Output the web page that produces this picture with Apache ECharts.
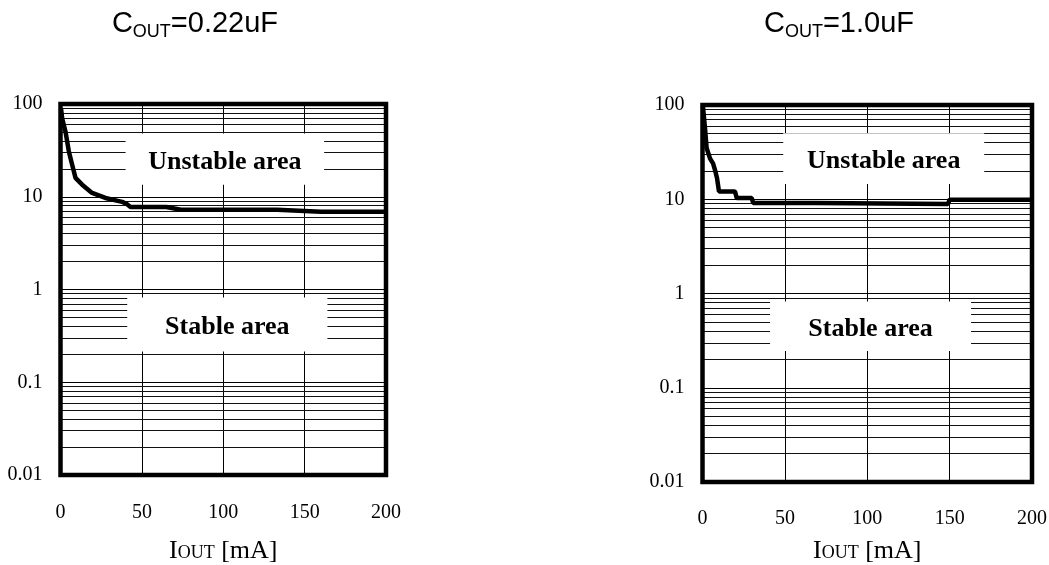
<!DOCTYPE html>
<html><head><meta charset="utf-8">
<script src="https://cdn.jsdelivr.net/npm/echarts@6/dist/echarts.min.js"></script>
<style>html,body{margin:0;padding:0;background:#fff}#c{width:1049px;height:565px}</style>
</head><body><div id="c"></div>
<script>
// ---- data ----
const xTicks = [0, 50, 100, 150, 200];
const yTickLabels = ['0.01', '0.1', '1', '10', '100'];
const minorGridValues = [
  0.02, 0.03, 0.04, 0.05, 0.06, 0.07, 0.08, 0.09,
  0.2, 0.3, 0.4, 0.5, 0.6, 0.7, 0.8, 0.9,
  2, 3, 4, 5, 6, 7, 8, 9,
  20, 30, 40, 50, 60, 70, 80, 90
];
const titleValues = ['0.22uF', '1.0uF'];
const areaNames = ['Unstable area', 'Stable area'];
// C_OUT = 0.22uF : [IOUT mA, ESR ohm]
const curve022 = [
  [0.3, 90], [1.0, 70], [3.1, 50], [5.1, 31], [7.2, 22], [9.2, 16], [13.3, 13.5],
  [19.4, 11], [27.6, 9.7], [37.9, 8.8], [40.5, 8.4], [43, 7.75], [65, 7.75],
  [74, 7.25], [133, 7.25], [160, 6.9], [200, 6.9]
];
// C_OUT = 1.0uF
const curve10 = [
  [0.2, 100], [0.5, 96], [1.5, 57], [2.5, 35], [4.6, 27], [6.4, 24], [7.6, 20.4],
  [8.8, 16.8], [10, 12.1], [19.7, 12.1], [20.8, 10.3], [29.9, 10.3], [30.8, 9.1],
  [69.3, 9.1], [70, 8.9], [149, 8.9], [150, 9.9], [200, 9.9]
];

// ---- styles / layout ----
const serif = 'Liberation Serif';
const sans = 'Liberation Sans';
const grids = [
  { left: 60.5, top: 104, width: 325.5, height: 371 },
  { left: 702.5, top: 105, width: 329.5, height: 377 }
];
const nameGaps = [63, 56];
const labelMargins = [28, 27];
const boxes = [
  [[40, 48, 162, 13.5], [41, 0.82, 164, 0.215]],
  [[49, 50, 171, 14.5], [41, 0.82, 163, 0.245]]
];
const titlePos = [[195, 24], [839, 24]];

const chart = echarts.init(document.getElementById('c'), null, { renderer: 'canvas' });

function xAxis(i) {
  return {
    type: 'value', gridIndex: i, min: xTicks[0], max: xTicks[xTicks.length - 1], interval: 50,
    axisLine: { show: false }, axisTick: { show: false },
    splitLine: { show: true, lineStyle: { color: '#000', width: 1 } },
    axisLabel: { color: '#000', fontFamily: serif, fontSize: 20, margin: labelMargins[i] },
    name: '{m|I}{s|OUT}{m| [mA]}', nameLocation: 'middle', nameGap: nameGaps[i],
    nameTextStyle: {
      rich: {
        m: { fontFamily: serif, fontSize: 26, color: '#000' },
        s: { fontFamily: serif, fontSize: 18, color: '#000', padding: [5, 0, 0, 0] }
      }
    }
  };
}
function yAxis(i) {
  return {
    type: 'log', logBase: 10, gridIndex: i, min: 0.01, max: 100,
    axisLine: { show: false }, axisTick: { show: false },
    splitLine: { show: true, lineStyle: { color: '#000', width: 1 } },
    axisLabel: {
      color: '#000', fontFamily: serif, fontSize: 20, margin: 18,
      formatter: v => yTickLabels[Math.round(Math.log10(v)) + 2]
    }
  };
}
function series(i, data) {
  const b = boxes[i];
  return {
    type: 'line', xAxisIndex: i, yAxisIndex: i, data: data, z: 5,
    symbol: 'none', silent: true, animation: false,
    lineStyle: { color: '#000', width: 4.5 },
    markLine: {
      silent: true, z: 1, symbol: ['none', 'none'], animation: false,
      label: { show: false },
      lineStyle: { color: '#111', width: 1, type: 'solid' },
      emphasis: { disabled: true },
      data: minorGridValues.map(v => ({ yAxis: v }))
    },
    markArea: {
      silent: true, z: 3, animation: false,
      itemStyle: { color: '#fff', opacity: 1 },
      label: { show: true, position: 'inside', offset: [0, 3], fontFamily: serif, fontSize: 26, fontWeight: 'bold', color: '#000' },
      data: b.map((r, k) => [
        { name: areaNames[k], xAxis: r[0], yAxis: r[1] },
        { xAxis: r[2], yAxis: r[3] }
      ])
    }
  };
}

chart.setOption({
  animation: false,
  backgroundColor: '#fff',
  grid: grids.map(g => Object.assign({
    show: true, z: 10, borderColor: '#000', borderWidth: 4.5, backgroundColor: 'transparent',
    containLabel: false, outerBoundsMode: 'none'
  }, g)),
  xAxis: [xAxis(0), xAxis(1)],
  yAxis: [yAxis(0), yAxis(1)],
  series: [series(0, curve022), series(1, curve10)],
  graphic: titleValues.map((t, i) => ({
    type: 'text', x: titlePos[i][0], y: titlePos[i][1],
    style: {
      text: '{m|C}{s|OUT}{m|=' + t + '}', align: 'center', verticalAlign: 'middle',
      rich: {
        m: { fontFamily: sans, fontSize: 29, fill: '#000' },
        s: { fontFamily: sans, fontSize: 18, fill: '#000', padding: [16, 0, 0, 0] }
      }
    }
  }))
});
</script>
</body></html>
